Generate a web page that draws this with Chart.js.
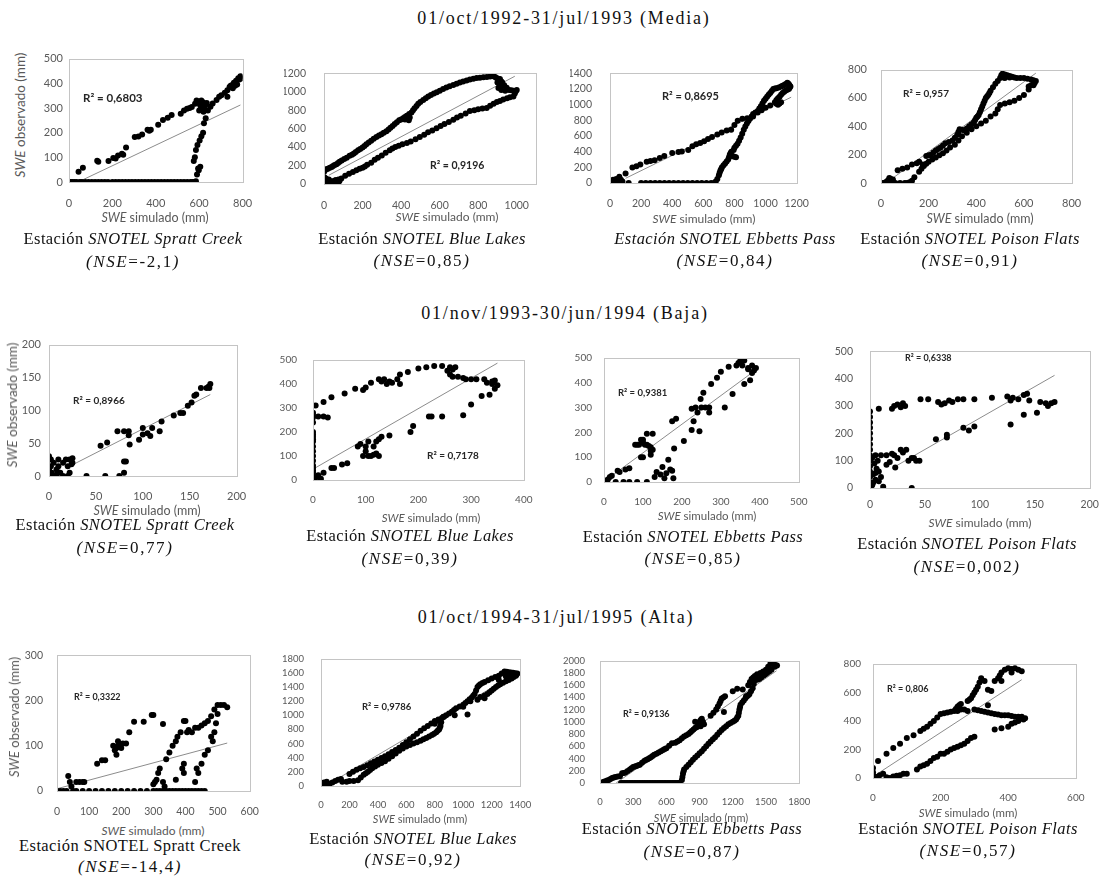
<!DOCTYPE html>
<html><head><meta charset="utf-8">
<script src="https://cdn.jsdelivr.net/npm/chart.js@4.4.0/dist/chart.umd.min.js"></script>
<style>
body{margin:0;width:1099px;height:876px;background:#fff;position:relative;overflow:hidden;font-family:'Liberation Serif','Times New Roman',serif;}
.abs{position:absolute;white-space:nowrap;transform:translate(-50%,-50%);}
.ttl{font-family:'Liberation Serif','Times New Roman',serif;font-size:18px;letter-spacing:1.8px;color:#111;}
.cap{font-family:'Liberation Serif','Times New Roman',serif;font-size:16.5px;letter-spacing:0.4px;color:#111;}
.cap2{font-family:'Liberation Serif','Times New Roman',serif;font-size:17px;letter-spacing:1.6px;color:#111;}
.r2{position:absolute;white-space:nowrap;transform:translateY(-50%);font-family:Lato,sans-serif;font-weight:bold;color:#262626;}
.axt{font-family:Lato,sans-serif;color:#595959;}
canvas{position:absolute;}
</style></head><body>
<script>
// ---------- titles / labels ----------
const periodTitles = ["01/oct/1992-31/jul/1993 (Media)", "01/nov/1993-30/jun/1994 (Baja)", "01/oct/1994-31/jul/1995 (Alta)"];
const r2Labels = ["0,6803","0,9196","0,8695","0,957","0,8966","0,7178","0,9381","0,6338","0,3322","0,9786","0,9136","0,806"];
const nseLabels = ["-2,1","0,85","0,84","0,91","0,77","0,39","0,85","0,002","-14,4","0,92","0,87","0,57"];
const stations = ["Spratt Creek","Blue Lakes","Ebbetts Pass","Poison Flats"];

// ---------- data (simulado, observado) ----------
const sprattMedia = [[0,0],[8,0],[16,0],[25,0],[35,0],[50,0],[60,0],[75,0],[90,0],[105,0],[120,0],[135,0],[150,0],[165,0],[180,0],[200,0],[215,0],[230,0],[245,0],[260,0],[275,0],[290,0],[305,0],[320,0],[335,0],[350,0],[365,0],[380,0],[395,0],[410,0],[425,0],[440,0],[455,0],[470,0],[485,0],[500,0],[515,0],[530,0],[545,0],[560,0],[570,0],[578,0],[585,3],
[44,42],[64,58],[130,86],[135,82],[182,85],[204,97],[215,95],[226,107],[244,114],[250,110],[263,140],[303,182],[320,184],[337,192],[362,212],[377,212],[370,208],[411,232],[433,251],[455,260],[473,271],[515,277],[530,290],[544,297],[556,300],[566,304],[581,317],[588,330],[595,325],[603,317],[610,330],[618,323],[625,304],[632,315],[612,300],[600,290],[620,285],[635,320],[605,310],[615,312],
[590,30],[595,55],[605,62],[598,48],[580,100],[575,85],[585,130],[592,150],[602,168],[610,185],[618,200],[622,238],[630,258],[640,290],[652,305],[662,318],[680,332],[692,345],[702,352],[718,362],[730,372],[740,385],[750,392],[760,402],[770,410],[780,420],[790,428],[785,415],[775,395],[745,390],[730,345],[765,390],[755,380],[795,420]];
const sprattMediaTrend = [[42,0],[790,312]];

const blueMedia = [[0,0],[5,20],[10,60],[15,30],[20,10],[25,50],[30,20],[40,0],[50,30],[60,40],[70,20],[80,30],[8,40],[3,70],
[0,130],[5,150],[12,160],[20,165],[30,175],[40,185],[47,195],[55,205],[65,215],[73,228],[81,242],[92,255],[105,270],[118,285],[133,305],[145,318],[155,330],[165,348],[177,367],[188,380],[200,395],[210,412],[220,430],[232,450],[245,470],[258,490],[272,509],[285,525],[298,540],[310,555],[324,572],[335,590],[345,610],[356,630],[367,650],[378,670],[390,690],[400,700],[411,713],[420,725],[430,740],[442,760],[454,776],[462,800],[470,820],[480,845],[489,870],[500,890],[515,910],[528,930],[541,949],[555,965],[570,980],[585,995],[601,1011],[618,1030],[635,1045],[652,1060],[671,1074],[688,1088],[705,1100],[722,1110],[740,1121],[757,1132],[775,1140],[792,1148],[809,1153],[827,1157],[845,1160],[862,1165],[879,1168],[888,1160],[895,1150],[905,1140],[913,1137],[920,1110],[925,1100],[935,1070],[948,1043],[960,1020],[972,1015],[983,1011],[995,1005],[1000,1020],[910,1080],[905,1040],[920,1020],[940,1010],[900,1100],[915,1060],[420,700],[440,690],[430,735],[445,720],
[20,20],[40,30],[60,40],[75,50],[90,60],[110,90],[130,110],[150,130],[168,148],[185,165],[200,175],[212,190],[224,210],[245,230],[263,264],[280,285],[300,310],[320,340],[341,367],[355,385],[370,400],[388,415],[407,430],[430,445],[450,460],[475,485],[497,509],[520,535],[540,560],[562,580],[584,603],[605,628],[625,650],[648,672],[671,697],[690,720],[710,740],[735,765],[757,792],[780,800],[800,810],[822,818],[844,823],[862,848],[880,870],[897,888],[913,901],[930,915],[950,930],[965,940],[983,949],[990,980]];
const blueMediaTrend = [[25,95],[990,1168]];

const ebbettsMedia = [[0,0],[10,20],[20,40],[30,10],[40,50],[50,30],[60,80],[70,40],[80,20],[100,120],[120,0],[5,10],[25,0],[45,15],[15,5],
[200,0],[230,0],[260,0],[290,0],[320,0],[350,0],[380,0],[410,0],[440,0],[470,0],[500,0],[530,0],[560,0],[590,0],[620,0],[650,0],[670,0],
[144,197],[170,215],[195,235],[236,272],[260,280],[287,290],[320,320],[349,346],[400,384],[440,395],[462,402],[503,421],[530,470],[554,495],[580,510],[605,532],[630,560],[656,588],[690,620],[718,644],[750,670],[779,681],[800,740],[821,793],[851,819],[882,827],
[680,20],[690,50],[700,100],[705,130],[710,160],[715,180],[720,200],[730,225],[740,250],[750,275],[760,300],[765,330],[770,360],[775,380],[780,400],[790,340],[800,335],[810,330],[795,420],[800,450],[810,475],[820,500],[830,540],[840,580],[850,630],[860,680],[870,720],[880,760],[890,790],[900,820],[910,850],[920,880],[935,900],[950,920],[960,950],[970,980],[980,1015],[990,1050],[1000,1075],[1010,1100],[1020,1125],[1030,1150],[1040,1175],[1050,1200],[1060,1205],[1070,1210],[1085,1220],[1100,1230],[1110,1240],[1120,1250],[1130,1265],[1140,1280],[1145,1270],[1150,1260],[1155,1245],[1160,1230],[1155,1215],[1150,1200],[1140,1190],[1130,1180],[1120,1165],[1110,1150],[1100,1125],[1090,1100],[1080,1080],[1070,1060],[1060,1030],[1070,1010],[1080,1000],[1090,1015],[1100,1030],[1000,960],[1030,990],[975,930],[950,900],[920,850]];
const ebbettsMediaTrend = [[100,60],[1165,1095]];

const poisonMedia = [[0,0],[10,0],[20,5],[30,20],[40,30],[50,25],[45,10],[60,0],[80,0],[100,0],[110,0],[120,5],[130,15],[35,35],[25,10],
[70,90],[90,100],[110,110],[130,130],[150,140],[160,150],[175,130],[190,190],[200,195],[210,200],[220,215],[230,230],[240,240],[250,250],[260,265],[270,280],[285,290],[300,300],[310,320],[320,340],[325,360],[330,380],[340,375],[350,370],[360,385],[370,400],[380,415],[390,430],[395,445],[400,460],[405,470],[410,480],[415,500],[420,520],[425,540],[430,560],[435,580],[440,600],[445,610],[450,620],[455,635],[460,650],[470,675],[480,700],[490,720],[500,740],[505,760],[510,770],[520,765],[530,760],[540,755],[550,750],[560,745],[570,740],[585,740],[600,740],[615,735],[630,730],[640,725],[650,720],[645,705],[640,700],[630,690],[620,680],[520,740],[540,745],[515,745],
[140,40],[160,80],[170,100],[180,120],[190,135],[200,150],[215,165],[230,180],[245,195],[260,210],[275,230],[290,250],[310,270],[325,300],[340,330],[360,355],[380,380],[400,400],[420,420],[440,440],[460,470],[480,490],[490,520],[500,550],[520,560],[540,570],[560,580],[580,600],[600,620],[620,660],[640,690]];
const poisonMediaTrend = [[50,35],[650,775]];

const sprattBaja = [[0,30],[2,25],[5,20],[0,10],[3,5],[0,0],[5,0],[8,10],[10,25],[12,5],[15,20],[18,25],[20,15],[22,25],[25,20],[22,5],[20,0],[8,2],[15,0],[10,15],[2,15],[25,27],[24,18],
[40,0],[60,0],[75,0],[80,5],[80,22],[82,22],[55,46],[62,51],[73,68],[80,68],[85,68],[85,62],[86,48],[96,55],[100,73],[100,63],[105,65],[108,61],[110,73],[118,68],[120,83],[133,92],[140,96],[143,96],[148,107],[152,112],[155,122],[157,124],[162,134],[168,134],[170,136],[172,140],[171,134]];
const sprattBajaTrend = [[25,17],[172,124]];

const blueBaja = [[0,0],[0,20],[0,40],[0,60],[0,80],[0,100],[0,120],[0,140],[0,170],[0,190],[0,200],[0,240],[0,260],[0,280],[0,30],[0,50],[0,160],[0,180],
[5,310],[20,325],[35,345],[60,360],[80,380],[95,375],[100,385],[110,405],[125,420],[135,420],[140,400],[145,410],[160,420],[165,400],[165,440],[180,450],[200,465],[215,470],[230,475],[245,475],[260,470],[265,460],[270,470],[260,440],[275,430],[285,425],[300,420],[290,420],[310,420],[325,420],[330,405],[340,400],[345,415],[350,395],[345,380],[340,410],[130,410],[150,405],[255,455],[265,430],
[0,270],[10,265],[20,265],[28,260],
[5,10],[10,20],[15,5],[20,30],[35,50],[40,50],[55,65],[65,70],[95,100],[100,120],[110,100],[120,110],[125,100],[115,140],[100,140],[85,140],[90,150],[105,160],[120,160],[125,170],[130,180],[145,185],[185,200],[190,225],[220,265],[225,265],[245,265],[285,270],[300,315],[320,350],[335,355],[105,100],[115,105]];
const blueBajaTrend = [[0,45],[350,487]];

const ebbettsBaja = [[0,0],[5,5],[10,10],[15,20],[20,25],[30,0],[35,45],[40,40],[50,0],[55,50],[65,55],[65,0],[85,0],[110,0],[80,150],[90,150],[95,170],[100,160],[105,150],[110,150],[115,145],[120,140],[125,130],[120,110],[100,100],[95,100],[110,195],[125,195],[130,20],[135,40],[145,30],[150,60],[155,15],[160,35],[165,90],[170,50],[175,45],[178,15],[180,135],[175,245],[185,255],[205,165],[225,210],[225,295],[230,245],[235,300],[240,280],[245,205],[248,335],[250,300],[255,360],[260,300],[270,300],[270,280],[275,395],[290,420],[300,445],[310,300],[320,465],[330,355],[340,470],[345,480],[350,490],[355,470],[360,490],[360,395],[370,460],[375,410],[380,440],[385,450],[390,460],[380,470],[370,455],[85,150],[100,170],[120,125]];
const ebbettsBajaTrend = [[0,2],[395,458]];

const poisonBaja = [[0,280],[0,260],[0,240],[0,220],[0,200],[0,180],[0,160],[0,140],[0,120],[0,100],[0,80],[0,60],[0,40],[0,20],[0,0],[2,10],[3,50],[5,30],[6,70],[8,60],[10,40],[4,90],[7,100],[12,5],[8,290],[20,290],[22,300],[25,305],[28,295],[30,310],[32,300],[46,325],[53,325],[62,315],[65,305],[68,310],[72,320],[75,315],[80,325],[85,325],[95,325],[111,330],[125,335],[128,320],[130,330],[135,325],[140,340],[143,345],[145,320],[155,315],[160,310],[162,300],[165,310],[168,315],[5,120],[10,120],[15,120],[20,125],[22,120],[25,110],[28,140],[30,130],[33,140],[35,100],[38,110],[40,110],[42,100],[45,100],[18,95],[15,85],[23,75],[38,0],[60,178],[70,185],[70,195],[85,220],[90,210],[95,225],[128,232],[140,268],[152,275],[3,20],[5,55],[8,25],[2,110]];
const poisonBajaTrend = [[20,72],[168,412]];

const sprattAlta = [[0,0],[10,0],[20,0],[30,0],[50,0],[60,0],[80,0],[100,0],[120,0],[140,0],[160,0],[180,0],[200,0],[220,0],[240,0],[260,0],[280,0],[300,0],[320,0],[340,0],[360,0],[380,0],[400,0],[420,0],[440,0],[460,0],[310,0],[330,0],[350,0],[370,0],[390,0],[410,0],[430,0],[450,0],
[35,33],[40,20],[45,10],[60,20],[70,20],[80,20],[85,20],[125,60],[140,68],[150,68],[175,100],[180,90],[185,80],[190,110],[195,100],[200,95],[205,105],[215,105],[225,130],[240,153],[270,153],[295,168],[300,168],[330,148],[300,15],[305,20],[310,25],[315,40],[320,50],[330,20],[335,10],[340,70],[350,85],[360,100],[370,110],[375,120],[385,130],[390,50],[395,60],[395,155],[400,155],[405,130],[410,135],[420,130],[430,140],[440,140],[450,145],[460,150],[470,155],[480,165],[490,180],[500,190],[510,190],[520,190],[530,185],[430,20],[435,50],[440,40],[450,60],[460,80],[470,90],[480,120],[485,110],[490,130],[495,150],[500,170],[370,25],[395,40],[185,95],[190,100]];
const sprattAltaTrend = [[0,5],[530,106]];

const blueAlta = [[0,0],[10,30],[20,50],[30,20],[40,60],[50,0],[60,30],[80,50],[100,70],[120,90],[140,100],[150,60],[180,60],[200,70],[230,70],[260,80],[280,120],[300,160],[315,180],[330,200],[345,225],[360,250],[380,275],[400,300],[425,325],[450,350],[475,385],[500,420],[525,460],[550,500],[575,530],[600,560],[625,580],[650,600],[675,620],[700,640],[720,660],[740,680],[760,700],[780,720],[795,740],[810,760],[820,780],[830,800],[835,825],[840,850],[845,900],[830,920],[800,880],[10,10],[25,40],
[200,170],[225,200],[250,230],[275,250],[300,270],[325,295],[350,320],[375,345],[400,370],[425,395],[450,420],[475,450],[500,480],[525,510],[550,540],[575,580],[600,620],[625,660],[650,700],[675,740],[700,780],[725,815],[750,850],[775,885],[800,920],[825,940],[850,960],[865,980],[880,1000],[900,1025],[920,1050],[935,1075],[950,1100],[975,1125],[1000,1150],[1015,1175],[1030,1200],[1045,1225],[1060,1250],[1070,1275],[1080,1300],[1090,1350],[1100,1400],[1110,1420],[1120,1440],[1135,1455],[1150,1470],[1175,1495],[1200,1520],[1225,1540],[1250,1560],[1270,1590],[1290,1620],[1305,1615],[1320,1610],[1335,1605],[1350,1600],[1365,1595],[1380,1590],[1375,1575],[1370,1560],[1355,1540],[1340,1520],[1320,1500],[1300,1480],[1280,1460],[1260,1440],[1245,1420],[1230,1400],[1215,1375],[1200,1350],[1185,1325],[1170,1300],[1150,1280],[1120,1260],[1050,1200],[1000,1120],[940,1000],[1030,1010],[1100,1220],[1150,1240],[860,980],[600,600],[1300,1550],[1330,1570],[1250,1500]];
const blueAltaTrend = [[30,0],[1370,1590]];

const ebbettsAlta = [[0,0],[20,10],[35,20],[50,30],[65,40],[80,50],[95,65],[110,80],[125,90],[140,100],[160,105],[180,110],[200,160],[215,165],[230,170],[250,195],[270,220],[285,240],[300,260],[315,270],[330,280],[345,290],[360,300],[380,330],[400,360],[415,375],[430,390],[445,405],[460,420],[475,440],[490,460],[510,480],[530,500],[550,520],[570,540],[585,555],[600,570],[625,610],[650,650],[680,660],[700,680],[720,700],[740,730],[760,760],[780,780],[800,800],[815,825],[830,850],[845,875],[860,900],[870,910],[880,920],[890,960],[900,1000],[910,1030],[920,1050],[930,1000],[940,960],[860,1000],[910,930],[1000,1100],[1025,1150],[1050,1200],[1065,1250],[1080,1300],[1090,1340],[1100,1380],[1115,1400],[1130,1420],[1120,1160],[1200,1500],[1240,1540],[1290,1530],[1320,1420],[1340,1600],[1355,1650],[1370,1700],[1385,1725],[1400,1750],[1420,1780],[1450,1800],[1475,1825],[1500,1850],[1520,1900],[1540,1950],[1555,1945],[1570,1940],[1585,1930],[1600,1920],[1580,1900],
[190,0],[220,0],[250,0],[280,0],[310,0],[340,0],[370,0],[400,0],[430,0],[460,0],[490,0],[520,0],[550,0],[580,0],[610,0],[640,0],[670,0],[700,0],[720,0],[205,0],[235,0],[265,0],[295,0],[325,0],[355,0],[385,0],[415,0],[445,0],[475,0],[505,0],[535,0],[565,0],[595,0],[625,0],[655,0],[685,0],[710,0],
[740,50],[745,100],[750,150],[755,190],[760,220],[780,260],[800,300],[820,340],[840,380],[860,415],[880,450],[900,485],[920,520],[940,560],[960,600],[980,640],[1000,680],[1020,715],[1040,750],[1060,790],[1080,830],[1100,865],[1120,900],[1140,930],[1160,960],[1180,980],[1200,1000],[1215,1020],[1230,1040],[1240,1070],[1250,1100],[1255,1150],[1260,1200],[1265,1240],[1270,1280],[1285,1315],[1300,1350],[1315,1385],[1330,1420],[1340,1435],[1350,1450],[1365,1500],[1380,1550],[1390,1620],[1400,1680],[1420,1690],[1440,1700],[1460,1730],[1480,1760],[1495,1780],[1510,1800],[1530,1825],[1550,1850]];
const ebbettsAltaTrend = [[146,0],[1595,1835]];

const poisonAlta = [[0,0],[0,20],[0,40],[0,70],[5,10],[10,5],[20,20],[30,30],[50,0],[60,10],[80,20],[90,30],[100,30],[70,15],[40,5],
[15,120],[40,170],[60,210],[80,240],[100,280],[120,300],[140,330],[150,345],[160,360],[170,380],[180,400],[190,425],[200,450],[210,455],[220,460],[230,465],[240,470],[245,485],[250,500],[255,510],[260,520],[270,480],[280,540],[285,550],[290,560],[295,580],[300,600],[305,620],[310,640],[315,670],[320,700],[330,680],[340,620],[350,610],[360,680],[370,700],[375,720],[380,740],[390,760],[400,770],[410,765],[420,770],[430,760],[440,750],[410,740],[380,680],[340,510],[300,480],[310,475],[320,470],[330,465],[340,460],[350,455],[360,450],[370,445],[380,440],[390,440],[400,440],[410,435],[420,430],[430,430],[440,430],[450,420],[445,410],[430,400],[420,390],[410,380],[400,360],[380,350],[360,340],[260,480],[250,470],[280,470],
[130,60],[140,80],[150,90],[160,100],[170,120],[180,140],[190,150],[200,170],[210,170],[220,185],[230,200],[240,210],[250,220],[260,230],[270,240],[280,260],[290,280],[300,290]];
const poisonAltaTrend = [[10,25],[440,690]];

// ---------- axis tick labels ----------
const tickSets = {
  t800:[0,200,400,600,800], t1000:[0,200,400,600,800,1000], t1200:[0,200,400,600,800,1000,1200], t1400:[0,200,400,600,800,1000,1200,1400],
  t1800:[0,200,400,600,800,1000,1200,1400,1600,1800], t2000:[0,200,400,600,800,1000,1200,1400,1600,1800,2000],
  t1800s:[0,300,600,900,1200,1500,1800], t200:[0,50,100,150,200], t300:[0,100,200,300], t400:[0,100,200,300,400],
  t500:[0,100,200,300,400,500], t600:[0,100,200,300,400,500,600], t600w:[0,200,400,600]
};

// ---------- panel layout ----------
const panels = [
 {d:sprattMedia, t:sprattMediaTrend, L:69,R:249,T:54,B:182, xMax:800,xT:'t800',yMax:500,yT:'t500', fs:11, yGap:6, xLab:204, r2x:83,r2y:97,r2fs:11.5, st:0, cx:133,c1:239,c2:262, xt:[155,217], yt:[20,115], capStyle:'i'},
 {d:blueMedia, t:blueMediaTrend, L:324,R:536,T:57,B:184, xMax:1100,xT:'t1000',yMax:1200,yT:'t1200', fs:10.5, yGap:18, xLab:206, r2x:430,r2y:165,r2fs:10.5, st:1, cx:422,c1:239,c2:261, xt:[447,216], capStyle:'i'},
 {d:ebbettsMedia, t:ebbettsMediaTrend, L:610,R:805,T:57,B:183, xMax:1200,xT:'t1200',yMax:1400,yT:'t1400', fs:10.5, yGap:18, xLab:204, r2x:662,r2y:95,r2fs:11, st:2, cx:725,c1:239,c2:261, xt:[704,218], capStyle:'all'},
 {d:poisonMedia, t:poisonMediaTrend, L:881,R:1077,T:57,B:183, xMax:800,xT:'t800',yMax:800,yT:'t800', fs:11, yGap:14, xLab:204, r2x:903,r2y:93,r2fs:10, st:3, cx:970,c1:239,c2:261, xt:[980,218], capStyle:'i'},
 {d:sprattBaja, t:sprattBajaTrend, L:49,R:242,T:338,B:476, xMax:200,xT:'t200',yMax:200,yT:'t200', fs:11, yGap:8, xLab:497, r2x:73,r2y:400,r2fs:10, st:0, cx:125,c1:525,c2:548, xt:[147,510], yt:[12,405], capStyle:'i'},
 {d:blueBaja, t:blueBajaTrend, L:313,R:528,T:346,B:480, xMax:400,xT:'t400',yMax:500,yT:'t500', fs:10, yGap:16, xLab:500, r2x:427,r2y:455,r2fs:10, st:1, cx:410,c1:536,c2:559, xt:[431,517], capStyle:'i'},
 {d:ebbettsBaja, t:ebbettsBajaTrend, L:604,R:803,T:348,B:482, xMax:500,xT:'t500',yMax:500,yT:'t500', fs:10, yGap:12, xLab:502, r2x:618,r2y:392,r2fs:9.5, st:2, cx:693,c1:537,c2:559, xt:[707,515], capStyle:'i'},
 {d:poisonBaja, t:poisonBajaTrend, L:870,R:1091,T:336,B:488, xMax:200,xT:'t200',yMax:500,yT:'t500', fs:10.5, yGap:17, xLab:505, r2x:905,r2y:357,r2fs:9, st:3, cx:967,c1:544,c2:567, xt:[980,522], capStyle:'i'},
 {d:sprattAlta, t:sprattAltaTrend, L:57,R:255,T:643,B:791, xMax:600,xT:'t600',yMax:300,yT:'t300', fs:10.5, yGap:14, xLab:812, r2x:74,r2y:696,r2fs:9, st:0, cx:130,c1:846,c2:867, xt:[153,830], yt:[14,717], capStyle:'none'},
 {d:blueAlta, t:blueAltaTrend, L:321,R:526,T:644,B:786, xMax:1400,xT:'t1400',yMax:1800,yT:'t1800', fs:9.5, yGap:17, xLab:805, r2x:362,r2y:706,r2fs:9.5, st:1, cx:413,c1:839,c2:860, xt:[420,818], capStyle:'i'},
 {d:ebbettsAlta, t:ebbettsAltaTrend, L:600,R:805,T:648,B:783, xMax:1800,xT:'t1800s',yMax:2000,yT:'t2000', fs:9.5, yGap:15, xLab:802, r2x:623,r2y:713,r2fs:9, st:2, cx:692,c1:829,c2:852, xt:[701,817], capStyle:'i'},
 {d:poisonAlta, t:poisonAltaTrend, L:873,R:1080,T:654,B:778, xMax:600,xT:'t600w',yMax:800,yT:'t800', fs:10, yGap:12, xLab:798, r2x:887,r2y:688,r2fs:9, st:3, cx:968,c1:829,c2:851, xt:[968,812], capStyle:'i'}
];

const frame = {id:'frame', afterDraw(ch){const a=ch.chartArea,c=ch.ctx;c.save();c.strokeStyle='#c4c4c4';c.lineWidth=1;c.strokeRect(Math.round(a.left)+0.5,Math.round(a.top)+0.5,Math.round(a.right-a.left),Math.round(a.bottom-a.top));c.restore();}};

function addDiv(cls, html, x, y, extra){const e=document.createElement('div');e.className=cls;e.innerHTML=html;e.style.left=x+'px';e.style.top=y+'px';if(extra)Object.assign(e.style,extra);document.body.appendChild(e);return e;}

addDiv('abs ttl', periodTitles[0], 564, 18);
addDiv('abs ttl', periodTitles[1], 565, 313);
addDiv('abs ttl', periodTitles[2], 556, 617);

panels.forEach((p,i)=>{
  const yW=40, padR=18, padT=8, xH=(p.xLab-p.B)+10;
  const W=(p.R-p.L)+yW+padR, H=(p.B-p.T)+padT+xH;
  const cv=document.createElement('canvas');
  cv.width=W; cv.height=H; cv.style.left=(p.L-yW)+'px'; cv.style.top=(p.T-padT)+'px'; cv.style.width=W+'px'; cv.style.height=H+'px';
  document.body.appendChild(cv);
  const tickFont={family:'Lato', size:p.fs};
  const setTicks=(arr)=>s=>{s.ticks=arr.map(v=>({value:v}));};
  const plain=v=>String(v);
  new Chart(cv,{
    type:'scatter',
    data:{datasets:[
      {data:p.d.map(v=>({x:v[0],y:v[1]})), pointRadius:3, pointBackgroundColor:'#000', pointBorderWidth:0, backgroundColor:'#000', order:1},
      {type:'line', data:p.t.map(v=>({x:v[0],y:v[1]})), borderColor:'#8c8c8c', borderWidth:1, pointRadius:0, fill:false, order:2}
    ]},
    options:{responsive:false, animation:false, devicePixelRatio:1,
      layout:{padding:{left:0,right:padR,top:padT,bottom:0}},
      plugins:{legend:{display:false}, tooltip:{enabled:false}},
      scales:{
        x:{type:'linear', min:0, max:p.xMax, afterBuildTicks:setTicks(tickSets[p.xT]), afterFit:s=>{s.height=xH;},
           ticks:{color:'#595959', font:tickFont, padding:(p.xLab-p.B)-p.fs*0.65, maxRotation:0, autoSkip:false, callback:plain},
           grid:{display:false, drawTicks:false}, border:{display:false}},
        y:{type:'linear', min:0, max:p.yMax, afterBuildTicks:setTicks(tickSets[p.yT]), afterFit:s=>{s.width=yW;},
           ticks:{color:'#595959', font:tickFont, padding:p.yGap, autoSkip:false, callback:plain},
           grid:{display:false, drawTicks:false}, border:{display:false}}
      }
    },
    plugins:[frame]
  });
  addDiv('r2', 'R² = '+r2Labels[i], p.r2x, p.r2y, {fontSize:p.r2fs+'px'});
  addDiv('abs axt', '<i>SWE</i> simulado (mm)', p.xt[0], p.xt[1], {fontSize:(p.fs+1.5)+'px'});
  if(p.yt){ addDiv('abs axt', '<i>SWE</i> observado (mm)', p.yt[0], p.yt[1], {transform:'translate(-50%,-50%) rotate(-90deg)', fontSize:(p.fs+2.5)+'px'}); }
  const name=stations[p.st];
  let line1;
  if(p.capStyle==='all') line1='<i>Estación SNOTEL '+name+'</i>';
  else if(p.capStyle==='none') line1='Estación SNOTEL '+name;
  else line1='Estación <i>SNOTEL '+name+'</i>';
  addDiv('abs cap', line1, p.cx, p.c1);
  addDiv('abs cap2', '<i>(NSE</i>='+nseLabels[i]+'<i>)</i>', p.cx, p.c2);
});
</script>
</body></html>
